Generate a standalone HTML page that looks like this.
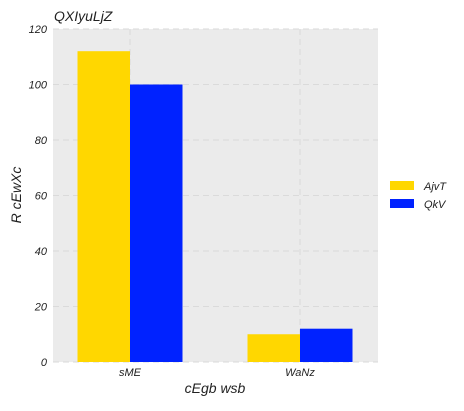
<!DOCTYPE html>
<html><head><meta charset="utf-8"><style>
body{margin:0;background:#fff;}
svg text{font-family:"Liberation Sans",sans-serif;font-style:italic;fill:#222;}
</style></head><body>
<svg width="464" height="406" xmlns="http://www.w3.org/2000/svg">
<rect x="53" y="29" width="325" height="333" fill="#ebebeb"/>
<g id="grid"></g><g id="bars"></g><g id="axes"></g>
<text x="54" y="21" font-size="14">QXIyuLjZ</text>
<text x="215" y="393" font-size="14" text-anchor="middle">cEgb wsb</text>
<text transform="translate(21,195) rotate(-90)" font-size="14" text-anchor="middle">R cEwXc</text>
<g>
<rect x="390" y="181" width="24" height="9" fill="#ffd700"/>
<text x="424" y="190" font-size="11">AjvT</text>
<rect x="390" y="199" width="24" height="9" fill="#0022ff"/>
<text x="424" y="208" font-size="11">QkV</text>
</g>
</svg>
<script>
const categories=["sME","WaNz"];
const seriesAjvT=[112,10];
const seriesQkV=[100,12];
const yTicks=[0,20,40,60,80,100,120];
const ns="http://www.w3.org/2000/svg";
const X0=53,X1=378,Y0=362,Y1=29;
function xs(v){return 130+v*170;}
function ys(v){return Y0-v/120*(Y0-Y1);}
function mk(t,a,p){const e=document.createElementNS(ns,t);for(const k in a)e.setAttribute(k,a[k]);p.appendChild(e);return e;}
const grid=document.getElementById('grid'),bars=document.getElementById('bars'),axes=document.getElementById('axes');
yTicks.forEach(v=>{
 const l=mk('line',{x1:X0,x2:X1,y1:ys(v),y2:ys(v),stroke:'#dadada','stroke-dasharray':'6,4'},grid);
 
 
 const t=mk('text',{x:X0-6,y:ys(v)+4,'font-size':11,'text-anchor':'end'},axes);
 t.textContent=v;
 
 
});
const bw=52.5;
categories.forEach((c,i)=>{
 const l=mk('line',{x1:xs(i),x2:xs(i),y1:Y1,y2:Y0,stroke:'#dadada','stroke-dasharray':'6,4'},grid);
 
 
 const a=mk('rect',{x:xs(i)-bw,y:ys(seriesAjvT[i]),width:bw,height:Y0-ys(seriesAjvT[i]),fill:'#ffd700'},bars);
 
 
 const b=mk('rect',{x:xs(i),y:ys(seriesQkV[i]),width:bw,height:Y0-ys(seriesQkV[i]),fill:'#0022ff'},bars);
 
 
 const t=mk('text',{x:xs(i),y:Y0+14,'font-size':11,'text-anchor':'middle'},axes);
 t.textContent=c;
 
 
});
</script>
</body></html>
